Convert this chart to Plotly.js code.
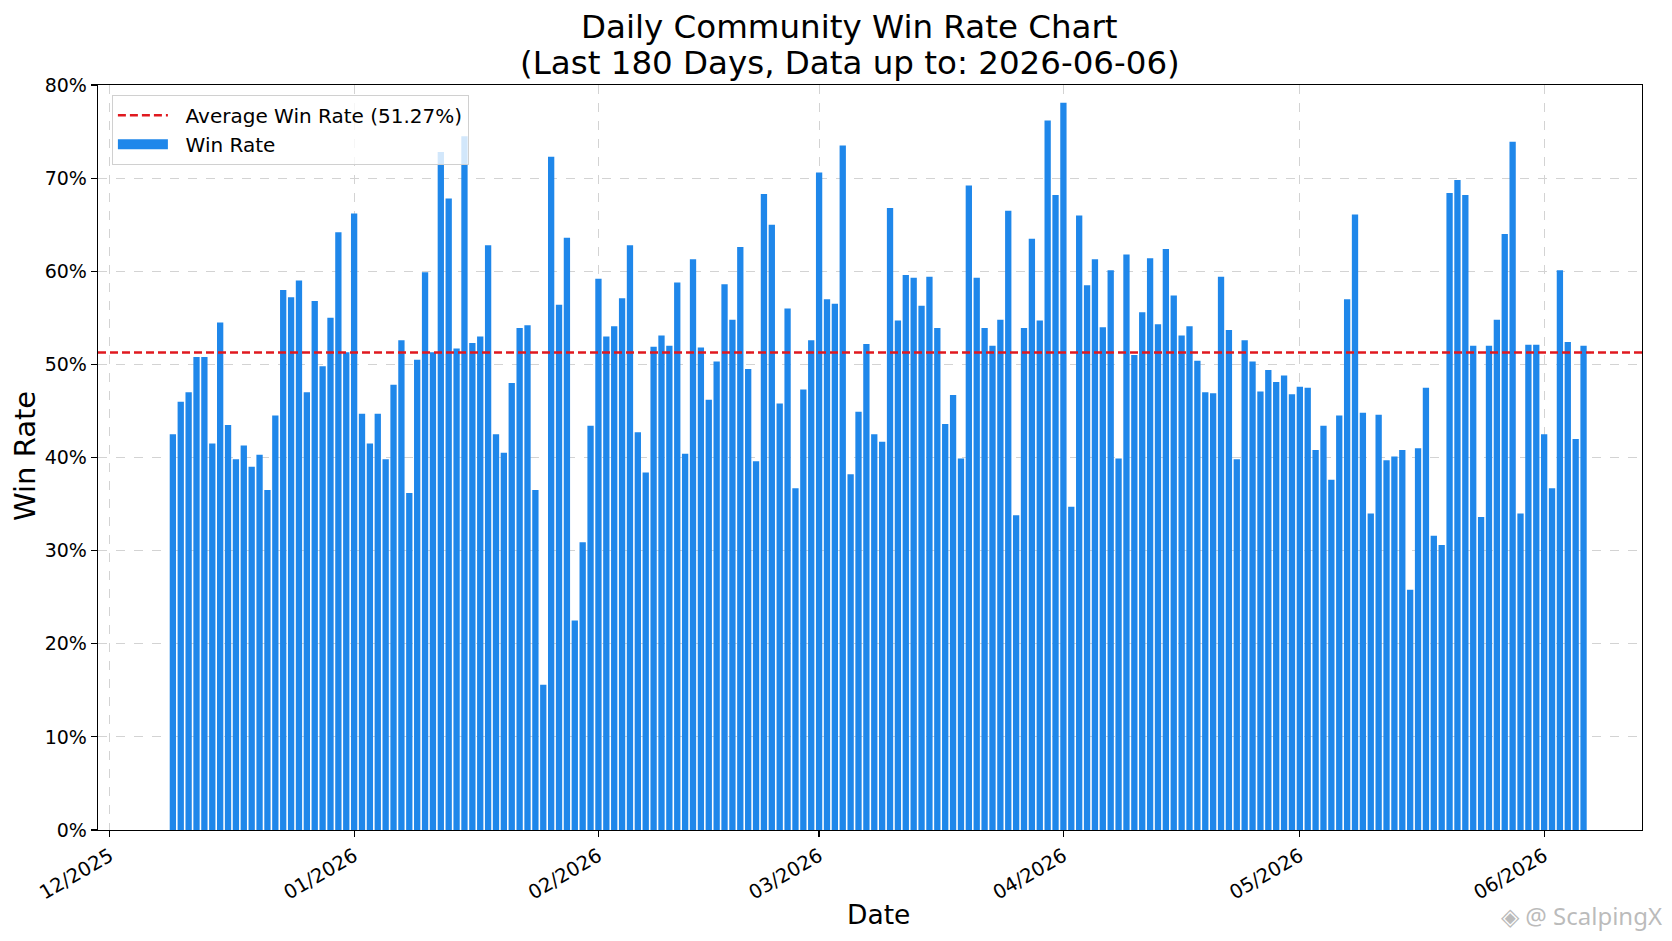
<!DOCTYPE html>
<html>
<head>
<meta charset="utf-8">
<script src="https://cdn.plot.ly/plotly-3.0.1.min.js"></script>
<style>
  html, body { margin: 0; padding: 0; background: #ffffff; }
  #chart { width: 1672px; height: 941px; }
</style>
</head>
<body>
<div id="chart"></div>
<script>
// ---- Data ----
const startDate = '2025-12-09';   // first day shown (180 days up to 2026-06-06)
const winRates = [
  42.5,46,47,50.8,50.8,41.5,54.5,43.5,39.8,41.3,
  39,40.3,36.5,44.5,58,57.2,59,47,56.8,49.8,
  55,64.2,51.3,66.2,44.7,41.5,44.7,39.8,47.8,52.6,
  36.2,50.5,59.9,51.3,72.8,67.8,51.7,74.5,52.3,53,
  62.8,42.5,40.5,48,53.9,54.2,36.5,15.6,72.3,56.4,
  63.6,22.5,30.9,43.4,59.2,53,54.1,57.1,62.8,42.7,
  38.4,51.9,53.1,52,58.8,40.4,61.3,51.8,46.2,50.3,
  58.6,54.8,62.6,49.5,39.6,68.3,65,45.8,56,36.7,
  47.3,52.6,70.6,57,56.5,73.5,38.2,44.9,52.2,42.5,
  41.7,66.8,54.7,59.6,59.3,56.3,59.4,53.9,43.6,46.7,
  39.9,69.2,59.3,53.9,52,54.8,66.5,33.8,53.9,63.5,
  54.7,76.2,68.2,78.1,34.7,66,58.5,61.3,54,60.1,
  39.9,61.8,51,55.6,61.4,54.3,62.4,57.4,53.1,54.1,
  50.4,47,46.9,59.4,53.7,39.8,52.6,50.3,47.1,49.4,
  48.1,48.8,46.8,47.6,47.5,40.8,43.4,37.6,44.5,57,
  66.1,44.8,34,44.6,39.7,40.1,40.8,25.8,41,47.5,
  31.6,30.6,68.4,69.8,68.2,52,33.6,52,54.8,64,
  73.9,34,52.1,52.1,42.5,36.7,60.1,52.4,42,52
];
const averageWinRate = 51.27;
const xRange = ['2025-11-29 12:00', '2026-06-13 10:00'];
const yTicks = [0,10,20,30,40,50,60,70,80];
const titleLine1 = 'Daily Community Win Rate Chart';
const titleLine2 = '(Last 180 Days, Data up to: 2026-06-06)';
const xTitle = 'Date';
const yTitle = 'Win Rate';
const watermark = '◈ @ ScalpingX';

// consecutive day labels
const dates = [];
{
  const d0 = new Date(startDate + 'T00:00:00Z');
  for (let i = 0; i < winRates.length; i++) {
    const d = new Date(d0.getTime() + i * 86400000);
    dates.push(d.toISOString().slice(0, 10));
  }
}

const FONT = 'DejaVu Sans, Verdana, sans-serif';
const BLUE = '#1f87ea';
const NB = '\u00a0\u00a0';

const traces = [
  {
    type: 'bar',
    x: dates,
    y: winRates,
    width: 0.8 * 86400000,
    name: 'Win Rate',
    showlegend: false,
    marker: { color: BLUE, line: { width: 0 } },
    hovertemplate: '%{x}<br>%{y:.2f}%<extra></extra>'
  },
  {
    type: 'scatter',
    mode: 'lines',
    x: xRange,
    y: [averageWinRate, averageWinRate],
    name: NB + 'Average Win Rate (' + averageWinRate.toFixed(2) + '%)',
    legendrank: 1,
    line: { color: '#e0191f', width: 2.4, dash: '8px,4px' },
    hoverinfo: 'skip'
  },
  {
    // legend entry for the bars (wide rectangle swatch)
    type: 'scatter',
    mode: 'lines',
    x: [null],
    y: [null],
    name: NB + 'Win Rate',
    legendrank: 2,
    line: { color: BLUE, width: 15 },
    hoverinfo: 'skip'
  }
];

const layout = {
  width: 1672,
  height: 941,
  paper_bgcolor: '#ffffff',
  plot_bgcolor: '#ffffff',
  font: { family: FONT, color: '#000000', size: 18 },
  margin: { l: 98, r: 30, t: 85, b: 111, autoexpand: false },
  showlegend: true,
  legend: {
    x: 0.009, y: 0.987, xanchor: 'left', yanchor: 'top',
    bgcolor: 'rgba(255,255,255,0.8)',
    bordercolor: '#d0d0d0', borderwidth: 1,
    font: { family: FONT, size: 20, color: '#000000' },
    itemwidth: 50,
    traceorder: 'normal'
  },
  xaxis: {
    type: 'date',
    range: xRange,
    tick0: '2025-12-01',
    dtick: 'M1',
    tickformat: '%m/%Y',
    tickangle: -30,
    ticks: 'outside', ticklen: 6, tickwidth: 1.2, tickcolor: '#000000',
    tickfont: { family: FONT, size: 19.5, color: '#000000' },
    showline: true, linecolor: '#000000', linewidth: 1.3, mirror: true,
    showgrid: true, gridcolor: '#d3d3d3', gridwidth: 1, griddash: 'dash',
    zeroline: false,
    automargin: false
  },
  yaxis: {
    range: [0, 80],
    tickvals: yTicks,
    ticktext: yTicks.map(v => v + '%'),
    ticks: 'outside', ticklen: 6, tickwidth: 1.2, tickcolor: '#000000',
    tickfont: { family: FONT, size: 19, color: '#000000' },
    showline: true, linecolor: '#000000', linewidth: 1.3, mirror: true,
    showgrid: true, gridcolor: '#d3d3d3', gridwidth: 1, griddash: 'dash',
    zeroline: false,
    automargin: false
  },
  annotations: [
    {
      text: titleLine1, xref: 'paper', yref: 'paper',
      x: 0.487, y: 1.0783, xanchor: 'center', yanchor: 'middle', showarrow: false,
      font: { family: FONT, size: 32.5, color: '#000000' }
    },
    {
      text: titleLine2, xref: 'paper', yref: 'paper',
      x: 0.487, y: 1.0295, xanchor: 'center', yanchor: 'middle', showarrow: false,
      font: { family: FONT, size: 32.5, color: '#000000' }
    },
    {
      text: xTitle, xref: 'paper', yref: 'paper',
      x: 0.5055, y: -0.114, xanchor: 'center', yanchor: 'middle', showarrow: false,
      font: { family: FONT, size: 26.5, color: '#000000' }
    },
    {
      text: yTitle, xref: 'paper', yref: 'paper', textangle: -90,
      x: -(98 - 25) / 1544, y: (830 - 456) / 745, xanchor: 'center', yanchor: 'middle', showarrow: false,
      font: { family: FONT, size: 29, color: '#000000' }
    },
    {
      text: watermark, xref: 'paper', yref: 'paper',
      x: 1.0142, y: -0.1154, xanchor: 'right', yanchor: 'middle', showarrow: false,
      font: { family: 'Noto Sans, sans-serif', size: 24, color: 'rgba(175,175,175,0.85)' }
    }
  ]
};

Plotly.newPlot('chart', traces, layout, { displayModeBar: false, staticPlot: true });
</script>
</body>
</html>
